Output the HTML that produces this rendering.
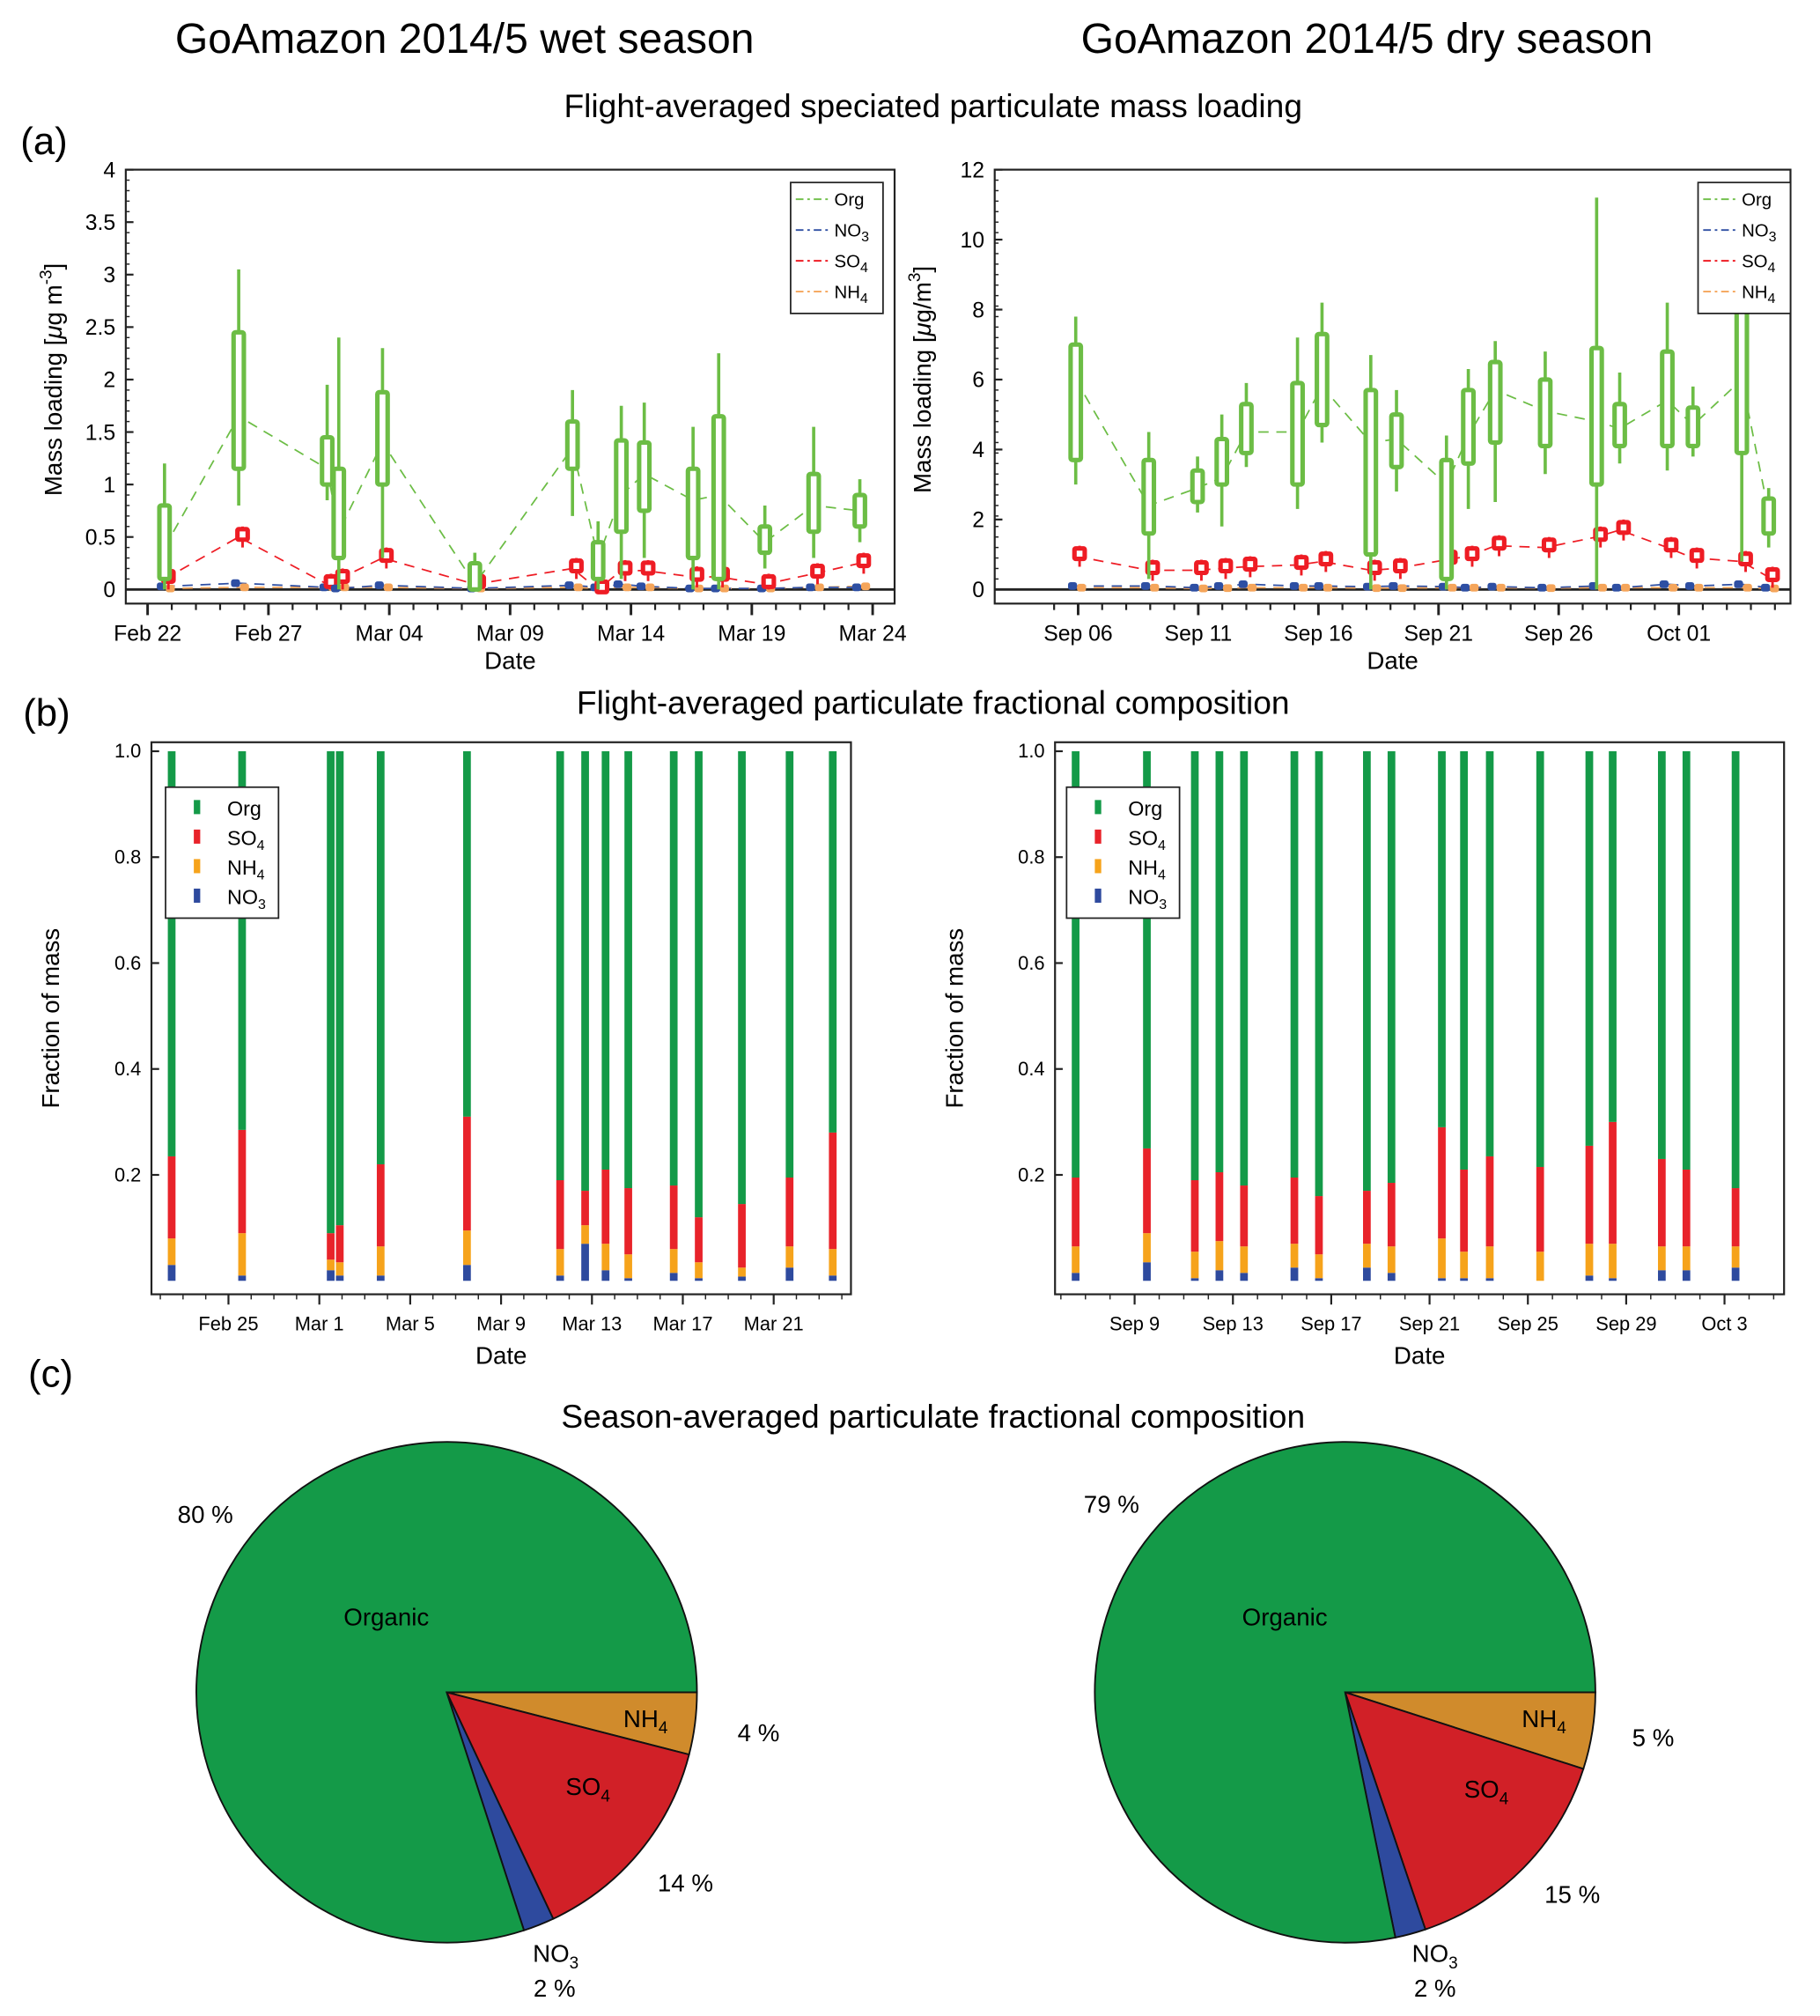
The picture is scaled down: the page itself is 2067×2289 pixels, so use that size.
<!DOCTYPE html>
<html><head><meta charset="utf-8"><style>
html,body{margin:0;padding:0;background:#fff}
svg{display:block;font-family:"Liberation Sans",Arial,sans-serif}
</style></head><body>
<svg id="root" width="2067" height="2289" viewBox="0 0 1418 1570" xmlns="http://www.w3.org/2000/svg">
<text x="362" y="41" font-size="33" text-anchor="middle">GoAmazon 2014/5 wet season</text>
<text x="1065" y="41" font-size="33" text-anchor="middle">GoAmazon 2014/5 dry season</text>
<text x="727" y="91" font-size="25.5" text-anchor="middle">Flight-averaged speciated particulate mass loading</text>
<text x="16" y="120" font-size="30">(a)</text>
<text x="727" y="556" font-size="25.5" text-anchor="middle">Flight-averaged particulate fractional composition</text>
<text x="18" y="565" font-size="30">(b)</text>
<text x="22" y="1080" font-size="30">(c)</text>
<text x="727" y="1112" font-size="25.5" text-anchor="middle">Season-averaged particulate fractional composition</text>
<g id="g"></g>
</svg>
<script>
// ---------- Panel a data ----------
const wetDays=[0.7,3.77,7.43,7.91,9.72,13.54,17.58,18.64,19.6,20.55,22.57,23.63,25.54,27.56,29.47];
const wetOrgQ1=[0.1,1.15,1.0,0.3,1.0,0,1.15,0.1,0.55,0.75,0.3,0.1,0.35,0.55,0.6];
const wetOrgQ3=[0.8,2.45,1.45,1.15,1.88,0.25,1.6,0.45,1.42,1.4,1.15,1.65,0.6,1.1,0.9];
const wetOrgLo=[0,0.8,0.85,0,0.3,0,0.7,0,0.1,0.3,0,0,0.2,0.3,0.45];
const wetOrgHi=[1.2,3.05,1.95,2.4,2.3,0.35,1.9,0.65,1.75,1.78,1.55,2.25,0.8,1.55,1.05];
const wetOrgMean=[0.4,1.65,1.15,0.55,1.4,0.05,1.35,0.3,0.9,1.1,0.85,0.9,0.45,0.8,0.75];
const wetSO4=[0.1,0.5,0.05,0.1,0.3,0.05,0.2,0.0,0.18,0.18,0.12,0.12,0.05,0.15,0.25];
const wetNO3=[0.03,0.06,0.02,0.01,0.04,0.01,0.04,0.02,0.05,0.03,0.01,0.01,0.01,0.02,0.02];
const wetNH4=[0.01,0.02,0.02,0.02,0.02,0.01,0.02,0.01,0.02,0.02,0.01,0.01,0.01,0.02,0.03];
const wetTicks=["Feb 22","Feb 27","Mar 04","Mar 09","Mar 14","Mar 19","Mar 24"];
const dryDays=[-0.1,2.94,4.97,5.98,7.0,9.13,10.15,12.18,13.25,15.33,16.24,17.36,19.44,21.58,22.54,24.52,25.59,27.62,28.74];
const dryOrgQ1=[3.7,1.6,2.5,3.0,3.9,3.0,4.7,1.0,3.5,0.3,3.6,4.2,4.1,3.0,4.1,4.1,4.1,3.9,1.6];
const dryOrgQ3=[7.0,3.7,3.4,4.3,5.3,5.9,7.3,5.7,5.0,3.7,5.7,6.5,6.0,6.9,5.3,6.8,5.2,8.0,2.6];
const dryOrgLo=[3.0,0.3,2.2,1.8,3.5,2.3,4.2,0,2.8,0,2.3,2.5,3.3,0,3.6,3.4,3.8,0.8,1.2];
const dryOrgHi=[7.8,4.5,3.8,5.0,5.9,7.2,8.2,6.7,5.7,4.4,6.3,7.1,6.8,11.2,6.2,8.2,5.8,8.8,2.9];
const dryOrgMean=[6.0,2.4,2.9,3.2,4.5,4.5,5.8,4.2,4.3,3.0,4.4,5.7,5.1,4.8,4.6,5.4,4.7,6.0,2.2];
const drySO4=[0.95,0.55,0.55,0.6,0.65,0.7,0.8,0.55,0.6,0.85,0.95,1.25,1.2,1.5,1.7,1.2,0.9,0.8,0.35];
const dryNO3=[0.1,0.1,0.05,0.1,0.15,0.1,0.1,0.08,0.1,0.08,0.05,0.08,0.05,0.1,0.05,0.15,0.1,0.15,0.05];
const dryNH4=[0.05,0.05,0.03,0.04,0.05,0.05,0.05,0.04,0.04,0.05,0.05,0.05,0.04,0.05,0.05,0.05,0.05,0.05,0.03];
const dryTicks=["Sep 06","Sep 11","Sep 16","Sep 21","Sep 26","Oct 01"];
// ---------- Panel b data ----------
const wetFracDays=[-2.5,0.6,4.5,4.9,6.7,10.5,14.6,15.7,16.6,17.6,19.6,20.7,22.6,24.7,26.6];
const wetFracSO4=[0.155,0.195,0.05,0.07,0.155,0.215,0.13,0.065,0.14,0.125,0.12,0.085,0.12,0.13,0.22];
const wetFracNH4=[0.05,0.08,0.02,0.025,0.055,0.065,0.05,0.035,0.05,0.045,0.045,0.03,0.017,0.04,0.05];
const wetFracNO3=[0.03,0.01,0.02,0.01,0.01,0.03,0.01,0.07,0.02,0.005,0.015,0.005,0.008,0.025,0.01];
const wetFracTicks=["Feb 25","Mar 1","Mar 5","Mar 9","Mar 13","Mar 17","Mar 21"];
const dryFracDays=[-2.4,0.5,2.45,3.45,4.45,6.5,7.5,9.45,10.45,12.5,13.4,14.45,16.5,18.5,19.45,21.45,22.45,24.45];
const dryFracSO4=[0.13,0.16,0.135,0.13,0.115,0.125,0.11,0.1,0.12,0.21,0.155,0.17,0.16,0.185,0.23,0.165,0.145,0.11];
const dryFracNH4=[0.05,0.055,0.05,0.055,0.05,0.045,0.045,0.045,0.05,0.075,0.05,0.06,0.055,0.06,0.065,0.045,0.045,0.04];
const dryFracNO3=[0.015,0.035,0.005,0.02,0.015,0.025,0.005,0.025,0.015,0.005,0.005,0.005,0.0,0.01,0.005,0.02,0.02,0.025];
const dryFracTicks=["Sep 9","Sep 13","Sep 17","Sep 21","Sep 25","Sep 29","Oct 3"];
// ---------- Panel c data ----------
const pieLabels=["NH4","SO4","NO3","Organic"];
const wetPie=[4,14,2,80];
const dryPie=[5,15,2,79];

const NS="http://www.w3.org/2000/svg";
const G=document.getElementById('g');
function mk(tag,attrs,parent,text){const e=document.createElementNS(NS,tag);for(const k in attrs)e.setAttribute(k,attrs[k]);if(text!==undefined)e.textContent=text;(parent||G).appendChild(e);return e;}
const C={org:'#6cbd45',so4:'#ee1c24',no3:'#2e4fa3',nh4:'#f5a55a'};
const F={org:'#149a48',so4:'#e8232a',nh4:'#f6a31b',no3:'#2e4a9e'};

function linePanel(o){
  const {x0,x1,y0,y1,ymax,dpx,d0,days,q1,q3,lo,hi,mean,so4,no3,nh4,ticks,tickStep,yTicks,ylabel,name,legX}=o;
  const g=mk('g',{});  
  const sy=v=>y1-(v/ymax)*(y1-y0); const sx=d=>d0+d*dpx;
  mk('rect',{x:x0,y:y0,width:x1-x0,height:y1+11-y0,fill:'none',stroke:'#222','stroke-width':1.5},g);
  mk('line',{x1:x0,x2:x1,y1:sy(0),y2:sy(0),stroke:'#222','stroke-width':2},g);
  yTicks.forEach(v=>{const y=sy(v);mk('line',{x1:x0,x2:x0+6,y1:y,y2:y,stroke:'#222','stroke-width':1.5},g);
    const t=mk('text',{x:x0-8,y:y+6,'font-size':17,'text-anchor':'end'},g,String(v));});
  for(let v=0;v<=ymax;v+=ymax/40){mk('line',{x1:x0,x2:x0+3,y1:sy(v),y2:sy(v),stroke:'#222'},g);}
  ticks.forEach((s,i)=>{const x=sx(i*tickStep);mk('line',{x1:x,x2:x,y1:y1+11,y2:y1+20,stroke:'#222','stroke-width':2},g);
    const t=mk('text',{x:x,y:y1+40,'font-size':17,'text-anchor':'middle'},g,s);});
  for(let d=-1;d<=31;d++){const x=sx(d);if(x>x0&&x<x1)mk('line',{x1:x,x2:x,y1:y1+11,y2:y1+16,stroke:'#222','stroke-width':1.5},g);}
  const xl=mk('text',{x:(x0+x1)/2,y:y1+62,'font-size':19,'text-anchor':'middle'},g,'Date');
  const yl=mk('text',{transform:`translate(${x0-50},${(y0+y1)/2}) rotate(-90)`,'font-size':19,'text-anchor':'middle'},g);yl.innerHTML=ylabel;
  const pts=a=>a.map((v,i)=>sx(days[i])+','+sy(v)).join(' ');
  [[nh4,C.nh4],[no3,C.no3],[so4,C.so4],[mean,C.org]].forEach(([a,c])=>{const p=mk('polyline',{points:pts(a),fill:'none',stroke:c,'stroke-width':1.2,'stroke-dasharray':'8,6'},g);});
  days.forEach((d,i)=>{
    [[no3[i],C.no3,-3],[nh4[i],C.nh4,4]].forEach(([v,c,off])=>{const r=mk('rect',{x:sx(d)+off-3,y:sy(v)-3,width:7,height:6,fill:c,rx:2},g);});
    const x=sx(d)+3;
    mk('line',{x1:x,x2:x,y1:sy(so4[i]+0.1*ymax/4),y2:sy(Math.max(0,so4[i]-0.1*ymax/4)),stroke:C.so4,'stroke-width':2},g);
    const s=mk('rect',{x:x-4,y:sy(so4[i]+0.05*ymax/4)-2,width:8,height:Math.max(6,(0.1*ymax/4)/ymax*(y1-y0)),fill:'#fff',stroke:C.so4,'stroke-width':3.5,rx:1},g);
    const xo=sx(d);
    const w=mk('line',{x1:xo,x2:xo,y1:sy(hi[i]),y2:sy(lo[i]),stroke:C.org,'stroke-width':2.5},g);
    const b=mk('rect',{x:xo-4,y:sy(q3[i]),width:8,height:sy(q1[i])-sy(q3[i]),fill:'#fff',stroke:C.org,'stroke-width':3.5,rx:1.5},g);
  });
  const lg=mk('g',{},g);
  mk('rect',{x:legX,y:y0+10,width:72,height:102,fill:'#fff',stroke:'#222','stroke-width':1.2},lg);
  [['Org',C.org],['NO<tspan dy="4" font-size="11">3</tspan>',C.no3],['SO<tspan dy="4" font-size="11">4</tspan>',C.so4],['NH<tspan dy="4" font-size="11">4</tspan>',C.nh4]].forEach(([t,c],k)=>{
    const yy=y0+23+k*24;mk('line',{x1:legX+4,x2:legX+30,y1:yy,y2:yy,stroke:c,'stroke-width':1.3,'stroke-dasharray':'6,3,2,3'},lg);
    const tt=mk('text',{x:legX+34,y:yy+5,'font-size':14},lg);tt.innerHTML=t;});
}
linePanel({x0:98,x1:697,y0:132,y1:459,ymax:4,dpx:18.83,d0:115,days:wetDays,q1:wetOrgQ1,q3:wetOrgQ3,lo:wetOrgLo,hi:wetOrgHi,mean:wetOrgMean,so4:wetSO4,no3:wetNO3,nh4:wetNH4,ticks:wetTicks,tickStep:5,yTicks:[0,0.5,1,1.5,2,2.5,3,3.5,4],ylabel:'Mass loading [<tspan font-style="italic">μ</tspan>g m<tspan dy="-8" font-size="13">-3</tspan><tspan dy="8">]</tspan>',name:'wet-mass-loading-chart',legX:616});
linePanel({x0:775,x1:1395,y0:132,y1:459,ymax:12,dpx:18.72,d0:840,days:dryDays,q1:dryOrgQ1,q3:dryOrgQ3,lo:dryOrgLo,hi:dryOrgHi,mean:dryOrgMean,so4:drySO4,no3:dryNO3,nh4:dryNH4,ticks:dryTicks,tickStep:5,yTicks:[0,2,4,6,8,10,12],ylabel:'Mass loading [<tspan font-style="italic">μ</tspan>g/m<tspan dy="-8" font-size="13">3</tspan><tspan dy="8">]</tspan>',name:'dry-mass-loading-chart',legX:1323});

function barPanel(o){
  const {x0,x1,y0,y1,dpx,d0,days,so4,nh4,no3,ticks,name,legX}=o;
  const g=mk('g',{});
  const sy=v=>997.5-v*412.5; const sx=d=>d0+d*dpx;
  mk('rect',{x:x0,y:y0,width:x1-x0,height:y1-y0,fill:'none',stroke:'#222','stroke-width':1.5},g);
  [0.2,0.4,0.6,0.8,1.0].forEach(v=>{const y=sy(v);mk('line',{x1:x0,x2:x0+6,y1:y,y2:y,stroke:'#222','stroke-width':1.5},g);
    const t=mk('text',{x:x0-8,y:y+5,'font-size':15,'text-anchor':'end'},g,v.toFixed(1));});
  ticks.forEach((s,i)=>{const x=sx(i*4);mk('line',{x1:x,x2:x,y1:y1,y2:y1+8,stroke:'#222','stroke-width':1.5},g);
    const t=mk('text',{x:x,y:y1+28,'font-size':15,'text-anchor':'middle'},g,s);});
  for(let d=-4;d<=30;d++){const x=sx(d);if(x>x0&&x<x1)mk('line',{x1:x,x2:x,y1:y1,y2:y1+4,stroke:'#222'},g);}
  const xl=mk('text',{x:(x0+x1)/2,y:y1+54,'font-size':19,'text-anchor':'middle'},g,'Date');
  const yl=mk('text',{transform:`translate(${x0-72},${(y0+y1)/2}) rotate(-90)`,'font-size':19,'text-anchor':'middle'},g,'Fraction of mass');
  days.forEach((d,i)=>{const x=sx(d)-3;
    const a=no3[i],b=a+nh4[i],c=b+so4[i];
    [[0,a,F.no3,'bar-no3'],[a,b,F.nh4,'bar-nh4'],[b,c,F.so4,'bar-so4'],[c,1,F.org,'bar-org']].forEach(([lo,hi,col,nm])=>{
      const r=mk('rect',{x:x,y:sy(hi),width:6,height:Math.max(0,sy(lo)-sy(hi)),fill:col},g);});
  });
  const lg=mk('g',{},g);
  mk('rect',{x:legX,y:613,width:88,height:102,fill:'#fff',stroke:'#222','stroke-width':1.2},lg);
  [['Org',F.org],['SO<tspan dy="4" font-size="11">4</tspan>',F.so4],['NH<tspan dy="4" font-size="11">4</tspan>',F.nh4],['NO<tspan dy="4" font-size="11">3</tspan>',F.no3]].forEach(([t,c],k)=>{
    const yy=629+k*23;mk('rect',{x:legX+22,y:yy-6,width:5,height:11,fill:c},lg);
    const tt=mk('text',{x:legX+48,y:yy+6,'font-size':16},lg);tt.innerHTML=t;});
}
barPanel({x0:118,x1:663,y0:578,y1:1008,dpx:17.7,d0:178,days:wetFracDays,so4:wetFracSO4,nh4:wetFracNH4,no3:wetFracNO3,ticks:wetFracTicks,name:'wet-fraction-chart',legX:129});
barPanel({x0:822,x1:1390,y0:578,y1:1008,dpx:19.15,d0:884,days:dryFracDays,so4:dryFracSO4,nh4:dryFracNH4,no3:dryFracNO3,ticks:dryFracTicks,name:'dry-fraction-chart',legX:831});

function pie(cx,cy,r,vals,name,pctPos,labPos){
  const g=mk('g',{});
  const tot=vals.reduce((a,b)=>a+b,0);const cols=['#d08b2c','#d12027','#2e4a9e','#149a48'];
  let a0=0;
  vals.forEach((v,i)=>{const a1=a0+v/tot*2*Math.PI;
    const p=`M${cx},${cy} L${cx+r*Math.cos(a0)},${cy+r*Math.sin(a0)} A${r},${r} 0 ${a1-a0>Math.PI?1:0} 1 ${cx+r*Math.cos(a1)},${cy+r*Math.sin(a1)} Z`;
    const s=mk('path',{d:p,fill:cols[i],stroke:'#111','stroke-width':1.3},g);
    const pp=pctPos[i];const t=mk('text',{x:cx+pp[0],y:cy+pp[1],'font-size':19,'text-anchor':'middle'},g,v+' %');
    a0=a1;});
  const txt=['NH<tspan dy="5" font-size="13">4</tspan>','SO<tspan dy="5" font-size="13">4</tspan>','NO<tspan dy="5" font-size="13">3</tspan>','Organic'];
  txt.forEach((t,k)=>{const e=mk('text',{x:cx+labPos[k][0],y:cy+labPos[k][1],'font-size':19,'text-anchor':'middle'},g);e.innerHTML=t;});
}
pie(348,1318,195,wetPie,'wet-pie-chart',[[243,38],[186,155],[84,237],[-188,-132]],[[155,27],[110,80],[85,210],[-47,-52]]);
pie(1048,1318,195,dryPie,'dry-pie-chart',[[240,42],[177,164],[70,237],[-182,-140]],[[155,27],[110,82],[70,210],[-47,-52]]);
</script>
</body></html>
